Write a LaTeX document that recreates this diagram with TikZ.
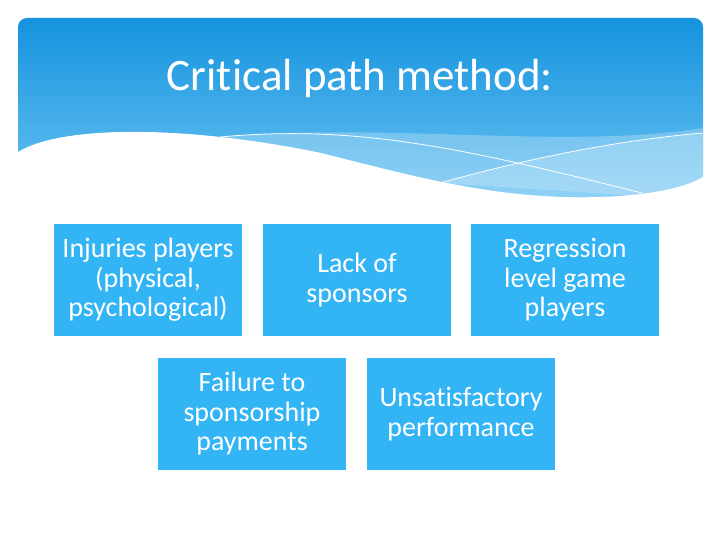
\documentclass[tikz,border=0pt]{standalone}
\usepackage{fontspec}
\setmainfont{Carlito}[Ligatures=NoCommon]
\definecolor{hdtop}{HTML}{1593DE}
\definecolor{hdbot}{HTML}{6CC4F3}
\definecolor{boxblue}{HTML}{33B4F4}
\tikzset{
  itembox/.style={fill=boxblue, text=white, minimum width=188pt, minimum height=112pt,
    inner sep=2pt, align=center, font=\fontsize{28}{29.5}\selectfont},
}
\begin{document}
\begin{tikzpicture}[x=1pt,y=-1pt]
\useasboundingbox[fill=white] (0,0) rectangle (720,540);
% header
\shade[top color=hdtop, bottom color=hdbot, rounded corners=9] (18,18) rectangle (703,205);
\fill[white,opacity=0.25] (216,137) .. controls (400,122) and (560,150) .. (703,128) -- (703,200) -- (440,200) -- cycle;
\fill[white,opacity=0.2] (440,183) .. controls (540,155) and (630,140) .. (703,133) -- (703,200) -- cycle;
\fill[white] (10,152) -- (18,152) .. controls (60,126) and (180,124) .. (321,153)
  .. controls (420,178) and (500,200) .. (600,197) .. controls (660,195) and (690,185) .. (703,177)
  -- (712,177) -- (712,212) -- (10,212) -- cycle;
\draw[white, line width=0.8pt] (220,137) .. controls (360,124) and (470,150) .. (642,193);
\draw[white, line width=0.8pt] (440,183) .. controls (530,158) and (620,140) .. (703,133);
\node[text=white, font=\fontsize{45}{50}\selectfont] (title) at (360,79) {Critical path method:};
% boxes
\node[itembox] (b1) at (148,280) {Injuries players\\(physical,\\psychological)};
\node[itembox] (b2) at (357,280) {Lack of\\sponsors};
\node[itembox] (b3) at (565,280) {Regression\\level game\\players};
\node[itembox] (b4) at (252,414) {Failure to\\sponsorship\\payments};
\node[itembox] (b5) at (461,414) {Unsatisfactory\\performance};
\end{tikzpicture}
\end{document}
